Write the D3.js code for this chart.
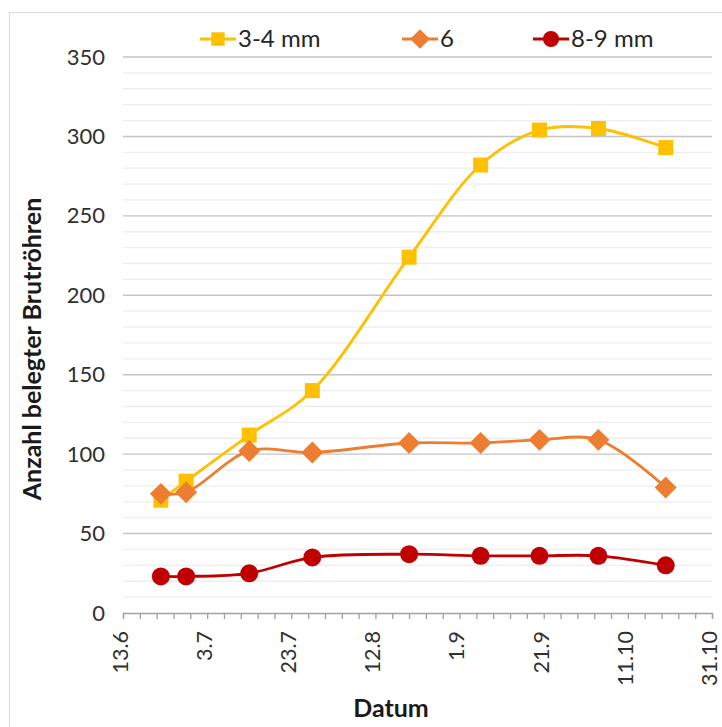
<!DOCTYPE html>
<html>
<head>
<meta charset="utf-8">
<script src="https://cdn.jsdelivr.net/npm/d3@7"></script>
<style>
  html, body { margin: 0; padding: 0; background: #fff; }
  svg { display: block; }
  text { font-family: Lato, "Open Sans", sans-serif; }
</style>
</head>
<body>
<svg id="chart" width="722" height="727"></svg>
<script>
// ---- data ----
const dates = ["22.6", "28.6", "13.7", "28.7", "20.8", "6.9", "20.9", "4.10", "20.10"];
const series34 = [71, 83, 112, 140, 224, 282, 304, 305, 293];
const series6 = [75, 76, 102, 101, 107, 107, 109, 109, 79];
const series89 = [23, 23, 25, 35, 37, 36, 36, 36, 30];
const seriesNames = ["3-4 mm", "6", "8-9 mm"];
const xTickLabels = ["13.6", "3.7", "23.7", "12.8", "1.9", "21.9", "11.10", "31.10"];
const yTicks = [0, 50, 100, 150, 200, 250, 300, 350];

const year = 2019;
const parse = s => { const [d, m] = s.split(".").map(Number); return new Date(Date.UTC(year, m - 1, d)); };

const svg = d3.select("#chart");

// outer chart border
svg.append("rect").attr("x", 9.5).attr("y", 12.5).attr("width", 740).attr("height", 740)
  .attr("fill", "none").attr("stroke", "#d9d9d9").attr("stroke-width", 1);

const x = d3.scaleUtc().domain([parse("13.6"), parse("31.10")]).range([123, 712]);
const y = d3.scaleLinear().domain([0, 350]).range([613, 57]);

// minor gridlines
const minor = d3.range(0, 351, 10).filter(v => v % 50 !== 0);
svg.append("g").selectAll("line").data(minor).join("line")
  .attr("x1", x.range()[0]).attr("x2", x.range()[1])
  .attr("y1", d => y(d)).attr("y2", d => y(d))
  .attr("stroke", "#eeeeee").attr("stroke-width", 1.3);
// major gridlines
svg.append("g").selectAll("line").data(yTicks.filter(v => v > 0)).join("line")
  .attr("x1", x.range()[0]).attr("x2", x.range()[1])
  .attr("y1", d => y(d)).attr("y2", d => y(d))
  .attr("stroke", "#c4c4c4").attr("stroke-width", 1.4);

// y axis labels
const yAxis = d3.axisLeft(y).tickValues(yTicks).tickSize(0).tickPadding(18);
const gy = svg.append("g").attr("transform", `translate(${x.range()[0]},0)`).call(yAxis);
gy.select(".domain").remove();
gy.selectAll("text").attr("font-size", 22).attr("fill", "#303030")
  .attr("font-family", "Lato, 'Open Sans', sans-serif");

// x axis
const minorDays = d3.range(0, 141, 4).map(d => d3.utcDay.offset(parse("13.6"), d));
const xAxisTicks = d3.axisBottom(x).tickValues(minorDays).tickSize(6).tickFormat("");
const gxT = svg.append("g").attr("transform", `translate(0,${y(0)})`).call(xAxisTicks);
gxT.select(".domain").attr("stroke", "#a0a0a0").attr("stroke-width", 1.3);
gxT.selectAll(".tick line").attr("stroke", "#a0a0a0").attr("stroke-width", 1.3);

const labelDates = xTickLabels.map(parse);
const labelByTime = new Map(labelDates.map((d, i) => [+d, xTickLabels[i]]));
const xAxisLabels = d3.axisBottom(x).tickValues(labelDates).tickSize(0)
  .tickFormat(d => labelByTime.get(+d));
const gxL = svg.append("g").attr("transform", `translate(0,${y(0)})`).call(xAxisLabels);
gxL.select(".domain").remove();
gxL.selectAll("text")
  .attr("font-size", 21.5).attr("fill", "#303030")
  .attr("transform", "rotate(-90)")
  .attr("text-anchor", "end")
  .attr("x", -18).attr("y", 0).attr("dy", "0.2em");

// axis titles
svg.append("text").attr("x", 391).attr("y", 717).attr("text-anchor", "middle")
  .attr("font-size", 25).attr("font-weight", "bold").attr("fill", "#1a1a1a").text("Datum");
svg.append("text").attr("transform", "translate(41,349) rotate(-90)").attr("text-anchor", "middle")
  .attr("font-size", 25).attr("font-weight", "bold").attr("fill", "#1a1a1a").text("Anzahl belegter Brutröhren");

// series
const colors = ["#FFC000", "#ED7D31", "#C00000"];
const allSeries = [series34, series6, series89];
const symbols = [d3.symbolSquare, d3.symbolSquare, d3.symbolCircle];
const symRot = [0, 45, 0];
const symSizes = [15 * 15, 15.5 * 15.5, Math.PI * 9 * 9];
const line = d3.line().x(d => x(d.date)).y(d => y(d.v)).curve(d3.curveCatmullRom.alpha(0.5));

allSeries.forEach((vals, si) => {
  const pts = vals.map((v, i) => ({ date: parse(dates[i]), v }));
  const g = svg.append("g");
  g.append("path").datum(pts).attr("d", line).attr("fill", "none")
    .attr("stroke", colors[si]).attr("stroke-width", 2.8);
  g.selectAll("path.m").data(pts).join("path").attr("class", "m")
    .attr("transform", d => `translate(${x(d.date)},${y(d.v)}) rotate(${symRot[si]})`)
    .attr("d", d3.symbol(symbols[si], symSizes[si]))
    .attr("fill", colors[si]);
});

// legend
const legendX = [200, 402, 533];
const legendY = 39;
seriesNames.forEach((name, i) => {
  const g = svg.append("g").attr("transform", `translate(${legendX[i]},${legendY})`);
  g.append("line").attr("x1", 0).attr("x2", 36).attr("y1", 0).attr("y2", 0)
    .attr("stroke", colors[i]).attr("stroke-width", 2.8);
  g.append("path").attr("transform", `translate(18,0) rotate(${symRot[i]})`)
    .attr("d", d3.symbol(symbols[i], symSizes[i] * 0.8)).attr("fill", colors[i]);
  g.append("text").attr("x", 38).attr("y", 0).attr("dy", "0.35em")
    .attr("font-size", 24).attr("fill", "#262626").text(name);
});
</script>
</body>
</html>
